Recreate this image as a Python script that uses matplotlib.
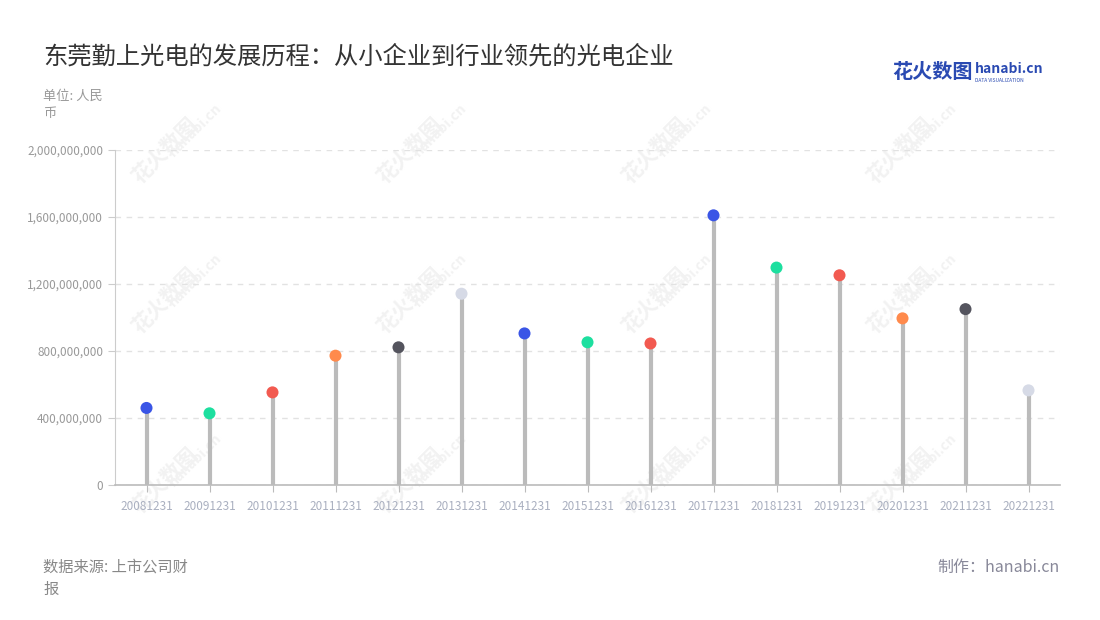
import matplotlib
matplotlib.use("Agg")
from matplotlib import pyplot as plt
from matplotlib.ticker import FuncFormatter

plt.rcParams['font.family'] = ['Noto Sans CJK SC', 'DejaVu Sans']

dates = ["20081231", "20091231", "20101231", "20111231", "20121231", "20131231",
         "20141231", "20151231", "20161231", "20171231", "20181231", "20191231",
         "20201231", "20211231", "20221231"]
revenue = [460e6, 428e6, 553e6, 772e6, 822e6, 1142e6, 905e6, 852e6, 845e6,
           1610e6, 1298e6, 1252e6, 995e6, 1050e6, 565e6]
dot_colors = ["#3a55e6", "#1ddf9f", "#f25a50", "#ff8a4c", "#54545e", "#d6dae6",
              "#3a55e6", "#1ddf9f", "#f25a50", "#3a55e6", "#1ddf9f", "#f25a50",
              "#ff8a4c", "#54545e", "#d6dae6"]
y_ticks = [0, 400e6, 800e6, 1200e6, 1600e6, 2000e6]

W, H = 1100, 620
fig = plt.figure(figsize=(W / 100, H / 100), dpi=100)
ax = fig.add_axes([115 / W, 135 / H, 945 / W, 335 / H])
ax.set_zorder(1)

# faint watermarks (behind the axes)
for wx in [165, 410, 655, 900]:
    for wy in [150, 300, 480]:
        fig.text(wx / W, 1 - wy / H, "花火数图", rotation=45,
                 fontsize=15, color="#f2f2f2", ha="center", va="center",
                 fontweight="bold", zorder=-1)
        fig.text((wx + 30) / W, 1 - (wy - 20) / H, "hanabi.cn", rotation=45,
                 fontsize=10, color="#f2f2f2", ha="center", va="center",
                 fontweight="bold", zorder=-1)

x = list(range(len(dates)))
ax.vlines(x, 0, revenue, color="#bbbbbb", linewidth=3, zorder=2)
ax.scatter(x, revenue, s=75, c=dot_colors, zorder=3, linewidths=0)

ax.set_xlim(-0.5, len(dates) - 0.5)
ax.set_ylim(0, 2e9)
ax.set_xticks(x)
ax.set_xticklabels(dates, color="#aab0c0", fontsize=8.5)
ax.set_yticks(y_ticks)
ax.yaxis.set_major_formatter(FuncFormatter(lambda v, p: f"{int(v):,}"))
ax.tick_params(axis="y", colors="#999999", labelsize=8.5, length=5, color="#cccccc")
ax.tick_params(axis="x", length=5, color="#bbbbbb", pad=6)
ax.grid(axis="y", color="#e2e2e2", linestyle=(0, (4, 4)), linewidth=1)
ax.set_axisbelow(True)
for s in ["top", "right"]:
    ax.spines[s].set_visible(False)
ax.spines["left"].set_color("#cccccc")
ax.spines["bottom"].set_color("#bbbbbb")
ax.spines["bottom"].set_linewidth(1.2)
ax.patch.set_alpha(0)

fig.text(43 / W, 1 - 56 / H, "东莞勤上光电的发展历程：从小企业到行业领先的光电企业",
         fontsize=17.5, color="#333333", va="center", ha="left")
fig.text(43 / W, 1 - 105 / H, "单位: 人民\n币", fontsize=9.5, color="#999999",
         va="center", ha="left", linespacing=1.5)
fig.text(43 / W, 1 - 578 / H, "数据来源: 上市公司财\n报", fontsize=11, color="#888888",
         va="center", ha="left", linespacing=1.4)
fig.text(1060 / W, 1 - 567 / H, "制作：hanabi.cn", fontsize=11.5, color="#888899",
         va="center", ha="right")

# logo
fig.text(892 / W, 1 - 72 / H, "花火数图", fontsize=14.5, color="#2a4ab2",
         fontweight="bold", va="center", ha="left")
fig.text(975 / W, 1 - 69 / H, "hanabi.cn", fontsize=10, color="#2a4ab2",
         fontweight="bold", va="center", ha="left")
fig.text(975 / W, 1 - 80 / H, "DATA VISUALIZATION", fontsize=3.5, color="#2a4ab2",
         va="center", ha="left")

fig.savefig("out.png", dpi=100, facecolor="white")
